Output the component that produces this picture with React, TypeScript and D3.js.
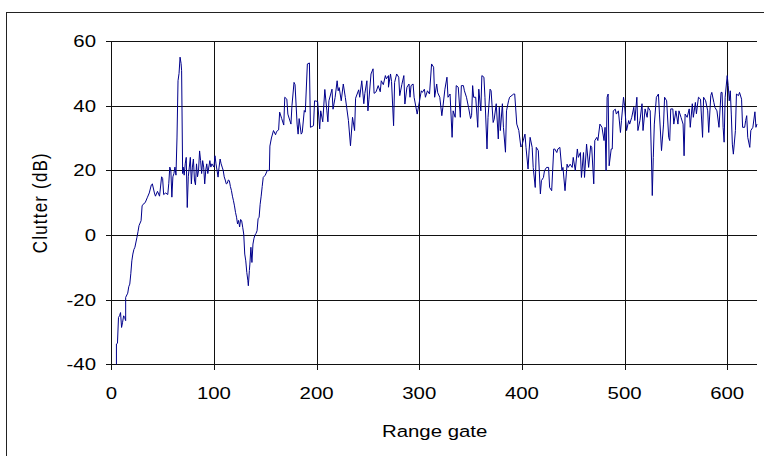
import React from "react";
import * as d3 from "d3";

const width = 764;
const height = 456;
const plot = { left: 111.3, right: 758, top: 41, bottom: 364.3 };

const xTicks = [0, 100, 200, 300, 400, 500, 600];
const yTicks = [-40, -20, 0, 20, 40, 60];

// [range gate, clutter dB], segment by segment
const rampUp: [number, number][] = [
  [5, -40], [5, -33.7], [6, -33.5], [7, -25.5], [8, -25], [9, -24], [10, -28.6], [11, -27],
  [12, -25], [13, -25.5], [14, -26.5], [14, -19.3], [16, -18], [17, -16], [18, -15.2],
  [19, -12], [20, -8], [21, -5.9], [22, -4.5], [23, -3.8], [25, -0.7], [26, 1], [27, 2.9],
  [29, 4.4], [30, 9], [31, 9.5], [33, 10], [35, 11.5], [37, 13], [39, 15.5], [40, 15.8],
  [42, 13], [43, 12], [45, 13.5], [47, 12], [49, 18], [50, 17.5], [51, 12.5], [53, 13],
  [55, 12.5], [56, 16], [57, 21], [58, 20], [59, 11.7], [60, 18], [61, 19], [62, 21],
  [63, 18.5],
];

const spikeAndDip: [number, number][] = [
  [64, 30], [65, 47.7], [66, 50], [67, 55], [68, 53], [68.5, 50.8], [69.5, 19], [70, 21],
  [71, 18.5], [72, 22], [73, 24], [74, 8.5], [75, 18], [76, 21], [77, 24], [78, 15.8],
  [79, 21], [80, 23.5], [81, 17], [82, 15.5], [83, 22], [84, 18], [85, 20], [86, 26],
  [87, 23], [88, 19], [89, 23], [90, 21], [91, 15.8], [92, 20], [93, 22], [94, 19],
  [96, 23], [97, 21], [98, 22], [100, 21], [101, 24.5], [102, 22], [103, 20], [104, 17.9],
  [105, 21], [106, 23.5], [107, 22], [108, 21], [109, 20], [110, 18], [111, 17], [112, 15.8],
  [113, 16], [114, 17], [115, 16.8], [116, 15], [117, 13.8], [118, 12], [119, 10.6], [120, 9],
  [121, 7], [122, 5.5], [123, 3.4], [124, 4.5], [125, 2.5], [126, 4.8], [127, 4.4], [128, 2.4],
  [129, 0.3], [130, -5.9], [131, -8], [132, -11.6], [133, -14], [133.5, -15.7], [134.5, -11],
  [135, -9], [136, -3.8], [137, -8.5], [138, -2.8], [139, -1], [140, 0], [141, 0.5],
  [142, 1.3], [143, 5], [144, 5.5], [145, 9.5], [146, 12], [147, 15], [148, 17.8], [150, 18.5],
  [152, 20], [153, 19.9], [154, 20], [154.5, 27.5], [156, 30], [158, 32.3], [160, 31],
  [161, 32], [163, 32.5],
];

const plateau: [number, number][] = [
  [164, 38], [166, 36], [168, 34], [169, 42.6], [171, 42], [172, 37.4], [175, 34.3], [176, 40],
  [178, 47.2], [179, 46.5], [181, 34.3], [182, 31.2], [183, 36], [185, 31.2], [186, 31.7],
  [188, 38.5], [189, 38], [191, 52.9], [193, 53.2], [194, 33.3], [197, 33.8], [198, 41.5],
  [201, 41.3], [203, 32.8], [204, 38.4], [206, 35], [208, 45], [210, 38.4], [211, 35],
  [212, 41.5], [215, 45.1], [216, 38.9], [218, 42.5], [220, 47.7], [221, 44.6], [222, 45.6],
  [224, 41.5], [226, 46.7], [228, 42.5], [231, 35.4], [233, 27.6], [235, 36.4], [237, 32.3],
  [238, 42.3], [241, 44.9], [242, 42.6], [244, 47.7], [246, 40.6], [247, 43.8], [249, 47.7],
  [250, 38.4], [251, 42], [253, 49.8], [255, 51.4], [256, 43.8], [258, 44.3], [260, 46.2],
  [262, 44.3], [263, 47.7], [265, 46.5], [267, 49.3], [268, 48.3], [270, 49.3], [270, 45.7],
  [272, 49.8], [273, 47.5], [275, 33.8], [276, 47.2], [278, 49.8], [280, 48.8], [281, 43.1],
  [283, 46.5], [285, 49.3], [286, 40.5], [288, 45.7], [290, 46.7], [291, 42.6], [292, 46.2],
  [294, 46.7], [295, 42.6], [298, 37.4], [300, 41], [302, 44.6], [303, 44.1], [305, 45.1],
  [306, 42.6], [308, 44.6], [310, 43.6], [312, 52.9], [314, 51.9], [315, 42.6], [317, 46.7],
  [318, 44], [320, 42.6], [322, 36.9], [323, 39.5], [325, 45.1], [327, 48.8], [328, 42.6],
  [330, 43.6], [332, 30.2], [333, 38.4], [335, 36.4], [336, 46.2], [338, 45.7], [340, 36.4],
  [341, 46.2], [343, 46.2], [344, 44.6], [346, 42.6], [348, 39.5], [350, 36], [351, 37],
  [352, 46.2], [353, 42.6], [355, 42.6], [357, 33.3], [358, 45.1], [360, 38.4], [361, 49.3],
  [363, 48.8], [364, 42.6], [366, 26.6], [367, 36.4], [369, 45.1], [370, 44.6], [372, 34.8],
  [373, 35.8], [375, 40.6], [377, 29.7], [378, 39.5], [379, 32.3], [381, 40.6], [382, 33.3],
  [384, 25.6], [385, 38.4], [387, 41.5], [388, 42.6], [392, 43.6], [393, 43.6], [395, 34.3],
  [397, 32.3], [399, 27.2], [400, 27.7], [403, 31.2], [404, 27.1], [406, 20.4], [407, 26],
];

const trough: [number, number][] = [
  [408, 30.2], [410, 27.1], [411, 20.9], [413, 14.7], [414, 27.1], [416, 26.1], [418, 12.7],
  [419, 16.8], [421, 17.8], [422, 19.9], [424, 20.9], [426, 20.9], [427, 14.7], [429, 13.7],
  [431, 26.6], [432, 26.6], [434, 25.5], [435, 26.6], [437, 27.1], [439, 19.9], [440, 20.9],
  [442, 13.7], [444, 21.9], [445, 20.9], [447, 21.9], [449, 20.9], [450, 24], [452, 19.9],
  [454, 26.6], [455, 24], [457, 25.5], [458, 17.8], [460, 25.5], [461, 17.8], [463, 28.1],
  [465, 20.9], [467, 27.6], [468, 27.1], [470, 15.8], [471, 29.2], [473, 30.2], [474, 29.2],
  [476, 34.3], [478, 33.3], [480, 29.2], [481, 33.3], [482, 19.9],
];

const tail: [number, number][] = [
  [483, 42.6], [484, 43.6], [485, 21.4], [487, 26.6], [488, 26.6], [489, 38.4], [491, 38.9],
  [492, 37.4], [494, 38.4], [496, 31.7], [497, 35.4], [499, 42.6], [500, 40], [502, 32.3],
  [504, 35.4], [505, 34.3], [507, 36.4], [509, 39.5], [510, 35.4], [512, 42.6], [513, 32.3],
  [515, 35.4], [517, 40.6], [518, 32.3], [520, 39], [522, 36.4], [523, 39.5], [525, 38.4],
  [526.5, 19.9], [527, 12.2], [528, 24], [529, 34.3], [531, 42.6], [533, 43.6], [534, 37.4],
  [536, 26.1], [538, 34.3], [539, 42.6], [541, 41.5], [543, 30.2], [544, 29.2], [545, 39],
  [547, 39], [548, 34.3], [550, 38.4], [552, 34.3], [553, 38.4], [555, 36.4], [557, 34.3],
  [558, 24.5], [559, 37.4], [561, 36.4], [563, 39], [564, 33.3], [566, 40.6], [567, 36.4],
  [569, 41], [570, 37.5], [572, 42.6], [574, 42], [576, 30.2], [577, 42.6], [579, 41.5],
  [581, 38.4], [582, 31.7], [584, 43.1], [585, 44.1], [587, 41], [588, 39.5], [590, 38.4],
  [592, 33.3], [594, 44.1], [595, 44.1], [596, 33.3], [597, 28.7], [598, 42.6], [600, 49.3],
  [601, 46.2], [602, 41.5], [603, 44.6], [604, 37.4], [605, 28.1], [606, 25], [608, 32.3],
  [609, 43.6], [611, 43.1], [612, 44.1], [614, 42], [615, 33.3], [617, 33.3], [618, 35.4],
  [619, 36.9], [620, 30.2], [622, 27.1], [623, 32.3], [625, 33.3], [627, 38.1], [628, 33.3],
  [629, 34.3],
];

const series = [...rampUp, ...spikeAndDip, ...plateau, ...trough, ...tail];

const font = "'Liberation Sans', Arial, sans-serif";

export default function App() {
  const x = d3.scaleLinear().domain([0, 630]).range([plot.left, plot.right]);
  const y = d3.scaleLinear().domain([-40, 60]).range([plot.bottom, plot.top]);
  const line = d3
    .line<[number, number]>()
    .x((d) => x(d[0]))
    .y((d) => y(d[1]));
  const px = (v: number) => Math.round(v) + 0.5;

  return (
    <svg
      width={width}
      height={height}
      style={{ position: "absolute", left: 0, top: 0, background: "#fff" }}
    >
      <rect x={6.5} y={12.5} width={820} height={520} fill="#fff" stroke="#222" />

      {/* grid */}
      <g stroke="#111" shapeRendering="crispEdges">
        {yTicks.map((t) => (
          <line key={"h" + t} x1={plot.left} x2={plot.right - 1} y1={px(y(t))} y2={px(y(t))} />
        ))}
        {xTicks.map((t) => (
          <line key={"v" + t} x1={px(x(t))} x2={px(x(t))} y1={plot.top} y2={px(plot.bottom) + 5} />
        ))}
        {yTicks.map((t) => (
          <line key={"yt" + t} x1={plot.left - 5} x2={plot.left} y1={px(y(t))} y2={px(y(t))} />
        ))}
      </g>

      <path d={line(series) ?? ""} fill="none" stroke="#00008b" strokeWidth={1} strokeLinejoin="round" />

      <g fontFamily={font} fontSize={17} fill="#000">
        {yTicks.map((t) => (
          <text
            key={"yl" + t}
            transform={`translate(96,${y(t) + 6}) scale(1.2,1)`}
            textAnchor="end"
          >
            {t}
          </text>
        ))}
        {xTicks.map((t) => (
          <text
            key={"xl" + t}
            transform={`translate(${x(t)},${399}) scale(1.2,1)`}
            textAnchor="middle"
          >
            {t}
          </text>
        ))}
        <text transform={`translate(${(plot.left + plot.right) / 2},437) scale(1.2,1)`} textAnchor="middle">
          Range gate
        </text>
        <text
          transform={`translate(47,${(plot.top + plot.bottom) / 2}) scale(1.2,1) rotate(-90)`}
          textAnchor="middle"
          letterSpacing={1.2}
        >
          Clutter (dB)
        </text>
      </g>
    </svg>
  );
}
